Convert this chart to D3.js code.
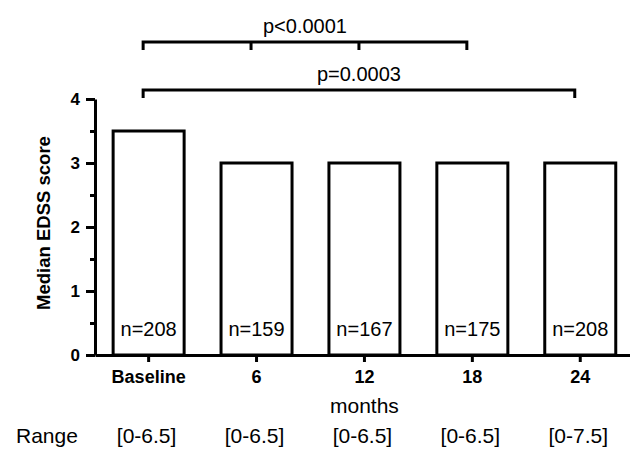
<!DOCTYPE html>
<html lang="en">
<head>
    <meta charset="UTF-8">
    <script src="https://cdn.jsdelivr.net/npm/d3@7"></script>
    <title>Median EDSS score</title>
    <style>
        body { margin: 0; background: #fff; }
        text { font-family: "Liberation Sans", Arial, sans-serif; fill: #000; }
    </style>
</head>
<body>
    <div id="viz"></div>
    <script>
        const categories = ["Baseline", "6", "12", "18", "24"]
        const medians = [3.5, 3, 3, 3, 3]
        const counts = [208, 159, 167, 175, 208]
        const ranges = ["[0-6.5]", "[0-6.5]", "[0-6.5]", "[0-6.5]", "[0-7.5]"]
        const yTicks = [0, 1, 2, 3, 4]
        const yMinorTicks = [0.5, 1.5, 2.5, 3.5]
        const comparisons = [
            {from: "Baseline", to: "18", inner: ["6", "12"], label: "p<0.0001"},
            {from: "Baseline", to: "24", inner: [], label: "p=0.0003"}
        ]

        const width = 630
        const height = 454
        const margin = {top: 99, left: 95, right: 0, bottom: 99}
        const lw = 3

        const svg = d3.select("#viz")
            .append("svg")
            .attr("width", width)
            .attr("height", height)

        const xScale = d3.scaleBand()
            .domain(categories)
            .range([margin.left, width - margin.right])
            .paddingInner(0.342)
            .paddingOuter(0.15)
            .align(0.56)

        const yScale = d3.scaleLinear()
            .domain([0, 4])
            .range([height - margin.bottom, margin.top])

        const cx = c => xScale(c) + xScale.bandwidth() / 2

        // bars
        svg.selectAll(".bar")
            .data(medians)
            .enter()
            .append("rect")
            .attr("x", (d, i) => xScale(categories[i]))
            .attr("y", d => yScale(d))
            .attr("width", xScale.bandwidth())
            .attr("height", d => yScale(0) - yScale(d))
            .attr("fill", "white")
            .attr("stroke", "black")
            .attr("stroke-width", lw)

        svg.selectAll(".count")
            .data(counts)
            .enter()
            .append("text")
            .attr("x", (d, i) => cx(categories[i]))
            .attr("y", yScale(0) - 19)
            .attr("text-anchor", "middle")
            .style("font-size", "20px")
            .text(d => "n=" + d)

        // axes
        const yAxis = svg.append("g")
            .attr("transform", `translate(${margin.left},0)`)
            .call(d3.axisLeft(yScale).tickValues(yTicks).tickSize(9).tickSizeOuter(0).tickPadding(6).tickFormat(d3.format("d")))
        yAxis.select(".domain").attr("stroke-width", lw)
        yAxis.selectAll(".tick line").attr("stroke-width", lw)
        yAxis.selectAll(".tick text")
            .style("font-size", "17px")
            .style("font-weight", "bold")
            .style("font-family", "'Liberation Sans', Arial, sans-serif")

        const yMinor = svg.append("g")
            .attr("transform", `translate(${margin.left},0)`)
            .call(d3.axisLeft(yScale).tickValues(yMinorTicks).tickSize(5).tickFormat(""))
        yMinor.select(".domain").remove()
        yMinor.selectAll(".tick line").attr("stroke-width", lw)

        const xAxis = svg.append("g")
            .attr("transform", `translate(0,${yScale(0)})`)
            .call(d3.axisBottom(xScale).tickSize(7).tickSizeOuter(0).tickPadding(8))
        xAxis.select(".domain").attr("stroke-width", lw)
        xAxis.selectAll(".tick line").attr("stroke-width", lw)
        xAxis.selectAll(".tick text")
            .style("font-size", "18px")
            .style("font-weight", "bold")
            .style("font-family", "'Liberation Sans', Arial, sans-serif")

        svg.append("text")
            .attr("transform", `translate(50,${(yScale(0) + yScale(4)) / 2 - 4}) rotate(-90)`)
            .attr("text-anchor", "middle")
            .style("font-size", "18.5px")
            .style("font-weight", "bold")
            .text("Median EDSS score")

        svg.append("text")
            .attr("x", (cx(categories[0]) + cx(categories[4])) / 2)
            .attr("y", yScale(0) + 58)
            .attr("text-anchor", "middle")
            .style("font-size", "21px")
            .text("months")

        // range row
        svg.append("text")
            .attr("x", 16)
            .attr("y", yScale(0) + 88)
            .style("font-size", "21px")
            .text("Range")

        svg.selectAll(".range")
            .data(ranges)
            .enter()
            .append("text")
            .attr("x", (d, i) => cx(categories[i]) - 2)
            .attr("y", yScale(0) + 88)
            .attr("text-anchor", "middle")
            .style("font-size", "21px")
            .text(d => d)

        // significance brackets
        const bracketY = [42, 90]
        const drop = 8
        const shift = -5.5
        comparisons.forEach((c, k) => {
            const x0 = cx(c.from) + shift
            const x1 = cx(c.to) + shift
            const y = bracketY[k]
            const path = d3.path()
            path.moveTo(x0, y + drop)
            path.lineTo(x0, y)
            path.lineTo(x1, y)
            path.lineTo(x1, y + drop)
            c.inner.forEach(t => {
                path.moveTo(cx(t) + shift, y)
                path.lineTo(cx(t) + shift, y + drop)
            })
            svg.append("path")
                .attr("d", path.toString())
                .attr("fill", "none")
                .attr("stroke", "black")
                .attr("stroke-width", lw)
            svg.append("text")
                .attr("x", (x0 + x1) / 2)
                .attr("y", y - 9)
                .attr("text-anchor", "middle")
                .style("font-size", "20px")
                .text(c.label)
        })
    </script>
</body>
</html>
